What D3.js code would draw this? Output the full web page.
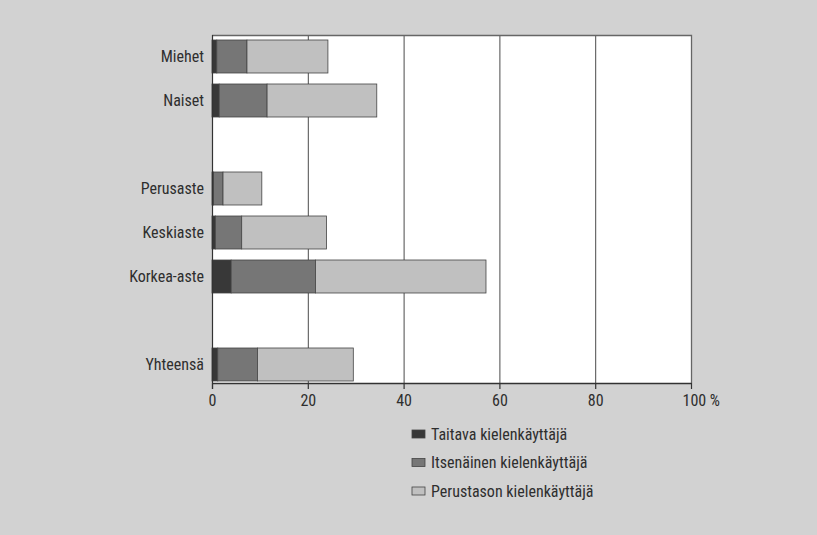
<!DOCTYPE html>
<html><head><meta charset="utf-8">
<script src="https://cdn.jsdelivr.net/npm/d3@7"></script>
<style>
body{margin:0;background:#d2d2d2;}
svg{display:block;}
text{font-family:"Liberation Sans Narrow","Roboto Condensed","Liberation Sans",sans-serif;fill:#2e2e2e;}
</style></head><body>
<svg id="chart" width="817" height="535"></svg>
<script>
// Data
const categories = ["Miehet","Naiset","_gap1","Perusaste","Keskiaste","Korkea-aste","_gap2","Yhteensä"];
const taitava     = [1.0, 1.5, null, 0.3, 0.7, 4.0, null, 1.2];
const itsenainen  = [6.3,10.0, null, 2.0, 5.5,17.6, null, 8.3];
const perustason  = [16.9,22.9,null, 8.1,17.7,35.6, null,20.0];
const seriesNames = ["Taitava kielenkäyttäjä","Itsenäinen kielenkäyttäjä","Perustason kielenkäyttäjä"];
const xTicks = [0,20,40,60,80,100];

const colors = ["#383838","#767676","#c0c0c0"];
const svg = d3.select("#chart");
svg.append("rect").attr("width",817).attr("height",535).attr("fill","#d2d2d2");

const L=212, R=691, T=35, B=383;
const x = d3.scaleLinear().domain([0,100]).range([L,R]);
const y = d3.scaleBand().domain(categories).range([T-0.5, B+3.5]).paddingInner(0.25).paddingOuter(0.125);

// plot area
svg.append("rect").attr("x",L).attr("y",T).attr("width",R-L).attr("height",B-T).attr("fill","#ffffff");

// gridlines
svg.append("g").selectAll("line").data(xTicks.slice(1,-1)).join("line")
  .attr("x1",d=>x(d)+0.5).attr("x2",d=>x(d)+0.5).attr("y1",T).attr("y2",B)
  .attr("stroke","#4a4a4a").attr("stroke-width",1);

// border top/right
svg.append("path").attr("d",`M${L},${T+0.5}H${R+0.5}V${B}`).attr("fill","none").attr("stroke","#666").attr("stroke-width",1.3);

// bars
const series = [taitava, itsenainen, perustason];
const rows = categories.map((c,i)=>({c, vals: series.map(s=>s[i])})).filter(r=>!r.c.startsWith("_gap"));
rows.forEach(r=>{
  let acc=0;
  r.vals.forEach((v,k)=>{
    svg.append("rect")
      .attr("x",x(acc)).attr("y",y(r.c)).attr("width",x(acc+v)-x(acc)).attr("height",y.bandwidth())
      .attr("fill",colors[k]).attr("stroke","#444").attr("stroke-width",0.8);
    acc+=v;
  });
});

// category labels
svg.append("g").selectAll("text").data(rows).join("text")
  .attr("x",L-8).attr("y",r=>y(r.c)+y.bandwidth()/2).attr("dy","0.35em")
  .attr("text-anchor","end").attr("font-size",16).text(r=>r.c);

// y axis line
svg.append("line").attr("x1",L+0.5).attr("x2",L+0.5).attr("y1",T).attr("y2",B+6).attr("stroke","#333").attr("stroke-width",1.2);

// x axis
const xAxis = svg.append("g").attr("transform",`translate(0,${B})`)
  .call(d3.axisBottom(x).tickValues(xTicks).tickSize(6).tickSizeOuter(0).tickFormat(d=>d===100?"100 %":d));
xAxis.select(".domain").attr("stroke","#333").attr("stroke-width",1.3);
xAxis.selectAll(".tick line").attr("stroke","#333").attr("stroke-width",1.2);
xAxis.selectAll(".tick text").attr("font-size",16).attr("fill","#2e2e2e").attr("font-family",null).attr("y",12);
xAxis.selectAll(".tick text").filter(d=>d===100).attr("text-anchor","start").attr("x",-9);

// legend
const lg = svg.append("g").attr("transform","translate(412,434)");
seriesNames.forEach((n,i)=>{
  const g = lg.append("g").attr("transform",`translate(0,${i*28.5})`);
  g.append("rect").attr("x",0).attr("y",-4).attr("width",13).attr("height",8).attr("fill",colors[i]).attr("stroke","#444").attr("stroke-width",0.8);
  g.append("text").attr("x",19).attr("y",0).attr("dy","0.35em").attr("font-size",16).text(n);
});
</script></body></html>
